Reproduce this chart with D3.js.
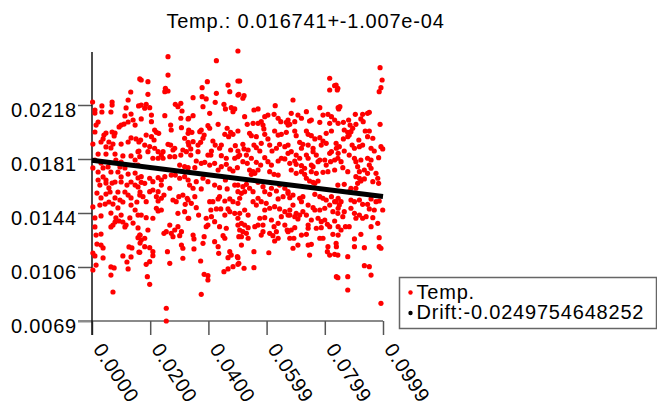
<!DOCTYPE html>
<html>
<head>
<meta charset="utf-8">
<script src="https://cdn.jsdelivr.net/npm/d3@7"></script>
<style>
  html, body { margin: 0; padding: 0; background: #fff; }
  svg { display: block; }
  text { font-family: "Liberation Sans", Arial, Helvetica, sans-serif; font-size: 20px; letter-spacing: 0.8px; fill: #000; }
</style>
</head>
<body>
<svg id="chart" width="657" height="406"></svg>
<script>
// Temperature samples: [time (s), temperature]
const samples = [
  [0.0164,0.02360],[0.0133,0.02270],[0.0002,0.02201],[0.0069,0.02201],[0.0069,0.02180],[0.0034,0.02174],[0.0124,0.02215],[0.0117,0.02160],[0.0160,0.02174],[0.0010,0.02146],[0.0010,0.02125],[0.0034,0.02132],[0.0065,0.02132],[0.0134,0.02118],[0.0113,0.02105],[0.0141,0.02077],[0.0148,0.02042],[0.0100,0.02042],[0.0093,0.02029],[0.0110,0.02049],[0.0124,0.02063],[0.0021,0.02063],[0.0014,0.02042],[0.0010,0.01994],[0.0041,0.01973],[0.0048,0.01987],[0.0069,0.01994],[0.0079,0.01987],[0.0076,0.01967],[0.0038,0.01946],[0.0031,0.01925],[0.0058,0.01925],[0.0072,0.01911],[0.0100,0.01911],[0.0134,0.01953],[0.0151,0.01946],[0.0161,0.01925],[0.0124,0.01925],[0.0003,0.01911],[0.0048,0.01891],[0.0065,0.01884],[0.0021,0.01842],[0.0048,0.01842],[0.0079,0.01842],[0.0106,0.01829],[0.0134,0.01829],[0.0161,0.01863],[0.0010,0.01801],[0.0031,0.01780],[0.0082,0.01801],[0.0100,0.01787],[0.0148,0.01801],[0.0158,0.01766],[0.0003,0.01746],[0.0038,0.01746],[0.0055,0.01753],[0.0096,0.01753],[0.0113,0.01746],[0.0021,0.01718],[0.0038,0.01684],[0.0048,0.01663],[0.0065,0.01718],[0.0089,0.01718],[0.0100,0.01684],[0.0124,0.01704],[0.0148,0.01711],[0.0158,0.01677],[0.0021,0.01663],[0.0027,0.01628],[0.0048,0.01642],[0.0058,0.01608],[0.0069,0.01642],[0.0079,0.01649],[0.0100,0.01649],[0.0120,0.01628],[0.0134,0.01649],[0.0148,0.01628],[0.0158,0.01615],[0.0113,0.01580],[0.0089,0.01580],[0.0017,0.01573],[0.0031,0.01539],[0.0048,0.01566],[0.0062,0.01580],[0.0079,0.01539],[0.0096,0.01525],[0.0124,0.01559],[0.0134,0.01539],[0.0154,0.01511],[0.0165,0.01580],[0.0027,0.01490],[0.0045,0.01497],[0.0058,0.01511],[0.0072,0.01497],[0.0089,0.01470],[0.0106,0.01511],[0.0134,0.01490],[0.0148,0.01456],[0.0003,0.01477],[0.0031,0.01415],[0.0010,0.01401],[0.0065,0.01435],[0.0082,0.01401],[0.0100,0.01421],[0.0106,0.01373],[0.0117,0.01352],[0.0130,0.01401],[0.0158,0.01421],[0.0065,0.01339],[0.0072,0.01352],[0.0079,0.01373],[0.0093,0.01380],[0.0113,0.01339],[0.0141,0.01366],[0.0158,0.01332],[0.0010,0.01339],[0.0014,0.01283],[0.0031,0.01290],[0.0165,0.01283],[0.0031,0.01214],[0.0017,0.01221],[0.0003,0.01159],[0.0010,0.01139],[0.0038,0.01194],[0.0106,0.01139],[0.0127,0.01201],[0.0137,0.01194],[0.0134,0.01132],[0.0165,0.01228],[0.0161,0.01166],[0.0038,0.01125],[0.0014,0.01076],[0.0003,0.01042],[0.0065,0.01063],[0.0076,0.01056],[0.0120,0.01097],[0.0124,0.01049],[0.0065,0.01007],[0.0072,0.00890],
  [0.0261,0.02514],[0.0261,0.02387],[0.0169,0.02353],[0.0192,0.02341],[0.0192,0.02254],[0.0252,0.02296],[0.0261,0.02277],[0.0250,0.02272],[0.0169,0.02180],[0.0186,0.02185],[0.0181,0.02158],[0.0198,0.02162],[0.0169,0.02084],[0.0204,0.02111],[0.0204,0.02065],[0.0250,0.02107],[0.0286,0.02185],[0.0305,0.02192],[0.0295,0.02169],[0.0309,0.02139],[0.0330,0.02084],[0.0305,0.02089],[0.0270,0.02042],[0.0272,0.02008],[0.0307,0.02024],[0.0215,0.02008],[0.0221,0.01992],[0.0229,0.01985],[0.0186,0.01973],[0.0204,0.01962],[0.0213,0.01939],[0.0330,0.01985],[0.0318,0.01951],[0.0330,0.01923],[0.0167,0.01939],[0.0181,0.01904],[0.0261,0.01909],[0.0270,0.01904],[0.0284,0.01882],[0.0198,0.01893],[0.0215,0.01882],[0.0227,0.01858],[0.0244,0.01858],[0.0238,0.01835],[0.0192,0.01858],[0.0209,0.01813],[0.0227,0.01813],[0.0244,0.01813],[0.0158,0.01858],[0.0164,0.01824],[0.0278,0.01870],[0.0312,0.01870],[0.0324,0.01858],[0.0267,0.01824],[0.0284,0.01824],[0.0305,0.01835],[0.0301,0.01766],[0.0318,0.01755],[0.0330,0.01748],[0.0169,0.01686],[0.0169,0.01647],[0.0181,0.01640],[0.0198,0.01675],[0.0209,0.01651],[0.0227,0.01679],[0.0238,0.01663],[0.0250,0.01686],[0.0272,0.01697],[0.0286,0.01697],[0.0301,0.01675],[0.0318,0.01686],[0.0330,0.01663],[0.0267,0.01606],[0.0238,0.01628],[0.0227,0.01582],[0.0209,0.01594],[0.0198,0.01582],[0.0164,0.01559],[0.0175,0.01548],[0.0186,0.01513],[0.0221,0.01548],[0.0227,0.01518],[0.0238,0.01537],[0.0247,0.01559],[0.0278,0.01525],[0.0289,0.01513],[0.0298,0.01548],[0.0312,0.01559],[0.0327,0.01537],[0.0320,0.01495],[0.0221,0.01468],[0.0227,0.01449],[0.0238,0.01456],[0.0169,0.01421],[0.0186,0.01403],[0.0209,0.01399],[0.0295,0.01433],[0.0318,0.01444],[0.0330,0.01399],[0.0267,0.01352],[0.0255,0.01306],[0.0247,0.01295],[0.0272,0.01295],[0.0284,0.01318],[0.0295,0.01341],[0.0307,0.01306],[0.0301,0.01279],[0.0278,0.01272],[0.0192,0.01318],[0.0164,0.01283],[0.0169,0.01249],[0.0181,0.01261],[0.0158,0.01265],[0.0181,0.01203],[0.0198,0.01196],[0.0209,0.01168],[0.0209,0.01141],[0.0164,0.01164],[0.0307,0.01214],[0.0312,0.01192],[0.0312,0.01123],[0.0259,0.01168],[0.0267,0.01088],[0.0198,0.01099],[0.0186,0.01081],[0.0190,0.00996],[0.0198,0.00943],[0.0255,0.00778],[0.0255,0.00690],
  [0.0427,0.02486],[0.0501,0.02553],[0.0501,0.02346],[0.0396,0.02341],[0.0378,0.02300],[0.0467,0.02318],[0.0473,0.02272],[0.0501,0.02249],[0.0347,0.02231],[0.0378,0.02238],[0.0392,0.02222],[0.0427,0.02261],[0.0423,0.02199],[0.0381,0.02169],[0.0453,0.02185],[0.0458,0.02153],[0.0478,0.02162],[0.0484,0.02134],[0.0490,0.02153],[0.0404,0.02123],[0.0347,0.02107],[0.0332,0.02089],[0.0433,0.02047],[0.0398,0.02038],[0.0404,0.02020],[0.0375,0.02008],[0.0370,0.01996],[0.0385,0.01973],[0.0381,0.01951],[0.0332,0.02008],[0.0343,0.01992],[0.0464,0.02020],[0.0476,0.01992],[0.0456,0.01978],[0.0469,0.01962],[0.0484,0.01978],[0.0501,0.02001],[0.0415,0.01932],[0.0423,0.01904],[0.0373,0.01923],[0.0364,0.01904],[0.0347,0.01927],[0.0332,0.01904],[0.0444,0.01904],[0.0438,0.01882],[0.0492,0.01900],[0.0476,0.01870],[0.0410,0.01863],[0.0408,0.01835],[0.0398,0.01835],[0.0339,0.01877],[0.0364,0.01858],[0.0339,0.01835],[0.0444,0.01831],[0.0461,0.01813],[0.0490,0.01813],[0.0501,0.01824],[0.0358,0.01794],[0.0375,0.01778],[0.0387,0.01785],[0.0353,0.01748],[0.0404,0.01766],[0.0421,0.01778],[0.0433,0.01732],[0.0444,0.01755],[0.0461,0.01771],[0.0473,0.01739],[0.0484,0.01725],[0.0499,0.01748],[0.0381,0.01675],[0.0358,0.01651],[0.0335,0.01628],[0.0347,0.01606],[0.0375,0.01601],[0.0353,0.01548],[0.0330,0.01525],[0.0341,0.01502],[0.0358,0.01472],[0.0398,0.01651],[0.0421,0.01628],[0.0438,0.01610],[0.0458,0.01663],[0.0464,0.01601],[0.0490,0.01628],[0.0501,0.01582],[0.0404,0.01513],[0.0415,0.01513],[0.0433,0.01532],[0.0438,0.01548],[0.0456,0.01518],[0.0473,0.01532],[0.0484,0.01513],[0.0501,0.01502],[0.0408,0.01456],[0.0427,0.01463],[0.0442,0.01463],[0.0467,0.01463],[0.0366,0.01421],[0.0332,0.01399],[0.0392,0.01399],[0.0410,0.01410],[0.0421,0.01375],[0.0438,0.01341],[0.0398,0.01352],[0.0392,0.01341],[0.0456,0.01421],[0.0473,0.01444],[0.0490,0.01433],[0.0501,0.01399],[0.0461,0.01330],[0.0501,0.01352],[0.0385,0.01272],[0.0381,0.01226],[0.0347,0.01283],[0.0350,0.01256],[0.0350,0.01187],[0.0421,0.01237],[0.0433,0.01203],[0.0435,0.01157],[0.0450,0.01279],[0.0456,0.01261],[0.0473,0.01168],[0.0478,0.01145],[0.0467,0.01127],[0.0499,0.01134],[0.0504,0.01272],[0.0373,0.01104],[0.0385,0.01012],[0.0398,0.01003],[0.0398,0.00973],[0.0375,0.00874],[0.0453,0.01030],[0.0467,0.01049],[0.0484,0.01065],[0.0501,0.01081],
  [0.0507,0.02346],[0.0504,0.02254],[0.0522,0.02245],[0.0518,0.02227],[0.0629,0.02176],[0.0556,0.02146],[0.0570,0.02153],[0.0593,0.02100],[0.0604,0.02111],[0.0625,0.02116],[0.0639,0.02089],[0.0648,0.02065],[0.0667,0.02061],[0.0673,0.02077],[0.0524,0.02100],[0.0533,0.02047],[0.0553,0.02054],[0.0570,0.02054],[0.0581,0.02065],[0.0587,0.02042],[0.0541,0.01985],[0.0547,0.01969],[0.0564,0.01962],[0.0593,0.01978],[0.0590,0.02015],[0.0604,0.01946],[0.0627,0.02001],[0.0639,0.01973],[0.0650,0.01978],[0.0667,0.01992],[0.0673,0.02042],[0.0518,0.01909],[0.0522,0.01877],[0.0536,0.01870],[0.0556,0.01904],[0.0564,0.01886],[0.0581,0.01916],[0.0576,0.01863],[0.0610,0.01904],[0.0618,0.01863],[0.0633,0.01882],[0.0644,0.01909],[0.0662,0.01893],[0.0673,0.01847],[0.0501,0.01863],[0.0507,0.01835],[0.0530,0.01835],[0.0547,0.01813],[0.0593,0.01817],[0.0604,0.01789],[0.0616,0.01766],[0.0639,0.01794],[0.0650,0.01813],[0.0662,0.01808],[0.0518,0.01789],[0.0533,0.01778],[0.0564,0.01785],[0.0579,0.01766],[0.0541,0.01732],[0.0553,0.01720],[0.0559,0.01709],[0.0570,0.01732],[0.0547,0.01702],[0.0610,0.01720],[0.0625,0.01702],[0.0639,0.01697],[0.0501,0.01628],[0.0518,0.01617],[0.0530,0.01633],[0.0541,0.01606],[0.0553,0.01582],[0.0513,0.01571],[0.0524,0.01582],[0.0507,0.01537],[0.0570,0.01647],[0.0587,0.01617],[0.0593,0.01582],[0.0610,0.01564],[0.0616,0.01606],[0.0633,0.01587],[0.0644,0.01628],[0.0662,0.01606],[0.0673,0.01571],[0.0656,0.01548],[0.0639,0.01532],[0.0570,0.01537],[0.0581,0.01513],[0.0598,0.01502],[0.0610,0.01468],[0.0593,0.01456],[0.0564,0.01490],[0.0553,0.01513],[0.0627,0.01479],[0.0644,0.01463],[0.0662,0.01444],[0.0673,0.01421],[0.0650,0.01410],[0.0524,0.01456],[0.0507,0.01433],[0.0536,0.01421],[0.0576,0.01399],[0.0593,0.01403],[0.0570,0.01352],[0.0559,0.01341],[0.0587,0.01352],[0.0616,0.01387],[0.0625,0.01341],[0.0639,0.01364],[0.0662,0.01352],[0.0670,0.01318],[0.0513,0.01364],[0.0524,0.01352],[0.0507,0.01318],[0.0518,0.01306],[0.0536,0.01334],[0.0530,0.01295],[0.0513,0.01272],[0.0587,0.01306],[0.0581,0.01283],[0.0610,0.01295],[0.0621,0.01279],[0.0633,0.01306],[0.0627,0.01242],[0.0639,0.01261],[0.0673,0.01306],[0.0536,0.01261],[0.0513,0.01214],[0.0556,0.01168],[0.0607,0.01161],[0.0501,0.01127],[0.0504,0.01088],[0.0522,0.01054],[0.0556,0.01058],
  [0.0816,0.02365],[0.0833,0.02314],[0.0816,0.02284],[0.0842,0.02284],[0.0690,0.02215],[0.0684,0.02123],[0.0707,0.02111],[0.0719,0.02089],[0.0696,0.02065],[0.0679,0.02047],[0.0736,0.02134],[0.0782,0.02162],[0.0793,0.02111],[0.0810,0.02116],[0.0822,0.02100],[0.0845,0.02162],[0.0747,0.02070],[0.0753,0.02077],[0.0782,0.02061],[0.0816,0.02054],[0.0833,0.02077],[0.0845,0.02054],[0.0696,0.02001],[0.0701,0.01969],[0.0736,0.02001],[0.0742,0.01978],[0.0753,0.01969],[0.0765,0.01946],[0.0782,0.01955],[0.0793,0.01932],[0.0804,0.01985],[0.0822,0.02001],[0.0673,0.01904],[0.0713,0.01923],[0.0724,0.01909],[0.0719,0.01882],[0.0684,0.01858],[0.0742,0.01904],[0.0759,0.01882],[0.0787,0.01904],[0.0804,0.01916],[0.0816,0.01847],[0.0822,0.01858],[0.0839,0.01882],[0.0845,0.01847],[0.0701,0.01835],[0.0713,0.01813],[0.0736,0.01835],[0.0742,0.01813],[0.0759,0.01858],[0.0770,0.01835],[0.0782,0.01801],[0.0679,0.01778],[0.0696,0.01794],[0.0701,0.01771],[0.0719,0.01762],[0.0730,0.01744],[0.0753,0.01766],[0.0759,0.01755],[0.0776,0.01789],[0.0799,0.01801],[0.0804,0.01766],[0.0819,0.01789],[0.0833,0.01801],[0.0684,0.01732],[0.0701,0.01709],[0.0719,0.01720],[0.0730,0.01702],[0.0753,0.01720],[0.0770,0.01709],[0.0793,0.01716],[0.0810,0.01720],[0.0833,0.01732],[0.0736,0.01675],[0.0747,0.01656],[0.0759,0.01647],[0.0765,0.01640],[0.0776,0.01656],[0.0673,0.01582],[0.0679,0.01541],[0.0690,0.01559],[0.0713,0.01537],[0.0724,0.01548],[0.0719,0.01513],[0.0765,0.01564],[0.0782,0.01548],[0.0793,0.01537],[0.0804,0.01525],[0.0822,0.01548],[0.0833,0.01513],[0.0845,0.01537],[0.0690,0.01490],[0.0679,0.01456],[0.0701,0.01433],[0.0724,0.01444],[0.0742,0.01490],[0.0759,0.01472],[0.0765,0.01456],[0.0782,0.01456],[0.0799,0.01468],[0.0816,0.01490],[0.0827,0.01444],[0.0845,0.01468],[0.0679,0.01421],[0.0696,0.01410],[0.0713,0.01421],[0.0707,0.01394],[0.0736,0.01421],[0.0753,0.01387],[0.0742,0.01352],[0.0776,0.01399],[0.0787,0.01375],[0.0799,0.01387],[0.0808,0.01357],[0.0816,0.01341],[0.0833,0.01380],[0.0684,0.01318],[0.0696,0.01334],[0.0719,0.01283],[0.0736,0.01288],[0.0742,0.01330],[0.0770,0.01330],[0.0787,0.01334],[0.0782,0.01261],[0.0793,0.01261],[0.0827,0.01288],[0.0845,0.01283],[0.0845,0.01341],[0.0679,0.01261],[0.0693,0.01261],[0.0707,0.01214],[0.0742,0.01214],[0.0753,0.01219],[0.0810,0.01203],[0.0808,0.01168],[0.0816,0.01145],[0.0833,0.01150],[0.0839,0.01203],[0.0690,0.01192],[0.0747,0.01145],[0.0839,0.00996],
  [0.0989,0.02438],[0.0996,0.02353],[0.0992,0.02300],[0.0986,0.02272],[0.0838,0.02318],[0.0844,0.02296],[0.0851,0.02169],[0.0847,0.02153],[0.0904,0.02116],[0.0929,0.02116],[0.0946,0.02123],[0.0952,0.02130],[0.0863,0.02061],[0.0881,0.02077],[0.0886,0.02042],[0.0906,0.02047],[0.0923,0.02084],[0.0931,0.02065],[0.0989,0.02047],[0.0866,0.02008],[0.0878,0.01992],[0.0889,0.01996],[0.0883,0.01973],[0.0878,0.01962],[0.0895,0.02020],[0.0938,0.02001],[0.0952,0.02001],[0.0946,0.01962],[0.0964,0.01951],[0.0863,0.01946],[0.0916,0.01939],[0.0838,0.01916],[0.0849,0.01893],[0.0866,0.01863],[0.0893,0.01904],[0.0901,0.01882],[0.0918,0.01893],[0.0929,0.01904],[0.0958,0.01882],[0.0969,0.01863],[0.0992,0.01893],[0.0998,0.01877],[0.0984,0.01817],[0.0883,0.01835],[0.0901,0.01813],[0.0923,0.01801],[0.0906,0.01789],[0.0946,0.01813],[0.0958,0.01801],[0.0855,0.01789],[0.0844,0.01813],[0.0861,0.01748],[0.0878,0.01720],[0.0912,0.01755],[0.0918,0.01720],[0.0935,0.01732],[0.0946,0.01709],[0.0958,0.01744],[0.0952,0.01766],[0.0975,0.01709],[0.0981,0.01675],[0.0906,0.01686],[0.0918,0.01675],[0.0923,0.01656],[0.0912,0.01640],[0.0935,0.01670],[0.0964,0.01651],[0.0984,0.01640],[0.0844,0.01628],[0.0866,0.01633],[0.0889,0.01606],[0.0906,0.01606],[0.0883,0.01582],[0.0838,0.01513],[0.0855,0.01513],[0.0849,0.01490],[0.0866,0.01444],[0.0889,0.01525],[0.0901,0.01513],[0.0889,0.01468],[0.0918,0.01525],[0.0929,0.01495],[0.0946,0.01495],[0.0952,0.01463],[0.0958,0.01532],[0.0975,0.01513],[0.0986,0.01518],[0.0998,0.01456],[0.0969,0.01456],[0.0901,0.01433],[0.0906,0.01399],[0.0918,0.01421],[0.0929,0.01399],[0.0941,0.01410],[0.0964,0.01403],[0.0981,0.01364],[0.0958,0.01341],[0.0844,0.01433],[0.0861,0.01410],[0.0870,0.01341],[0.0855,0.01318],[0.0883,0.01341],[0.0838,0.01226],[0.0844,0.01145],[0.0901,0.01203],[0.0901,0.01256],[0.0923,0.01288],[0.0935,0.01196],[0.0986,0.01265],[0.0986,0.01203],[0.0992,0.01192],[0.0878,0.01134],[0.0935,0.01072],[0.0952,0.01065],[0.0958,0.01007],[0.0878,0.00996],[0.0844,0.00989],[0.0878,0.00904],[0.0992,0.00812]
];

// Summary numbers shown in the title and legend
const seriesName = "Temp.";
const meanTemp = "0.016741";
const meanErr = "1.007e-04";
const driftSlope = -0.0249754648252;
const driftAtStart = 0.017989;   // fitted value at t = 0
const timeRange = [0, 0.0999];

// Axis ticks
const xTickValues = [0, 0.01998, 0.03996, 0.05994, 0.07992, 0.0999];
const xTickLabels = ["0.0000", "0.0200", "0.0400", "0.0599", "0.0799", "0.0999"];
const yTickValues = [0.0069, 0.010626, 0.014352, 0.018078, 0.021804];
const yTickLabels = ["0.0069", "0.0106", "0.0144", "0.0181", "0.0218"];

const width = 657, height = 406;
const margin = { top: 51, right: 274, bottom: 85, left: 92 };
const svg = d3.select("#chart");

const x = d3.scaleLinear().domain(timeRange).range([margin.left, width - margin.right]);
const y = d3.scaleLinear().domain(d3.extent(samples, d => d[1])).range([height - margin.bottom, margin.top]);

const tick = 14;

// Title
svg.append("text")
  .attr("x", 305.5).attr("y", 27.5)
  .attr("text-anchor", "middle")
  .text(`${seriesName}: ${meanTemp}+-${meanErr}`);

// Horizontal base line (grey) at the bottom of the value range
svg.append("line")
  .attr("x1", x.range()[0] - tick).attr("x2", x.range()[1])
  .attr("y1", y.range()[0]).attr("y2", y.range()[0])
  .attr("stroke", "#8a8a8a").attr("stroke-width", 2);

// Y axis
const yAxis = svg.append("g")
  .attr("transform", `translate(${margin.left},0)`)
  .call(d3.axisLeft(y).tickValues(yTickValues).tickFormat((d, i) => yTickLabels[i]).tickSize(tick).tickPadding(1));
yAxis.select(".domain").remove();
yAxis.selectAll(".tick line").attr("stroke", "#555").attr("stroke-width", 1.5);
yAxis.selectAll(".tick:first-of-type line").attr("stroke", "#8a8a8a").attr("stroke-width", 2);
yAxis.selectAll(".tick text")
  .attr("dy", "0.56em")
  .style("font-family", null).style("font-size", null)
  .attr("font-family", null).attr("font-size", null);
yAxis.attr("font-family", null).attr("font-size", null);

// X axis
const xAxis = svg.append("g")
  .attr("transform", `translate(0,${y.range()[0]})`)
  .call(d3.axisBottom(x).tickValues(xTickValues).tickFormat((d, i) => xTickLabels[i]).tickSize(tick));
xAxis.select(".domain").remove();
xAxis.attr("font-family", null).attr("font-size", null);
xAxis.selectAll(".tick line").attr("stroke", "#555").attr("stroke-width", 1.5);
xAxis.selectAll(".tick text")
  .attr("x", 0).attr("y", 0).attr("dy", 0)
  .attr("text-anchor", "start")
  .attr("transform", "translate(0,28) rotate(57)");

// Vertical axis line
svg.append("line")
  .attr("x1", margin.left).attr("x2", margin.left)
  .attr("y1", y.range()[1] + 1).attr("y2", y.range()[0] + tick)
  .attr("stroke", "#111").attr("stroke-width", 1.5);

// Samples
svg.append("g")
  .selectAll("circle")
  .data(samples)
  .join("circle")
  .attr("cx", d => x(d[0]))
  .attr("cy", d => y(d[1]))
  .attr("r", 2.6)
  .attr("fill", "#ff0000");

// Linear drift fit
const driftLine = d3.line().x(d => x(d)).y(d => y(driftAtStart + driftSlope * d));
svg.append("path")
  .attr("d", driftLine(timeRange))
  .attr("stroke", "#000").attr("stroke-width", 5).attr("fill", "none");

// Legend
const legend = svg.append("g").attr("transform", "translate(399.5,277.5)");
legend.append("rect")
  .attr("width", 257).attr("height", 51)
  .attr("fill", "#fff").attr("stroke", "#666").attr("stroke-width", 1.5);
const legendItems = [
  { label: seriesName, color: "#ff0000" },
  { label: `Drift:${driftSlope}`, color: "#000" }
];
const rows = legend.selectAll("g.item").data(legendItems).join("g")
  .attr("class", "item")
  .attr("transform", (d, i) => `translate(0,${21 + i * 20.5})`);
rows.append("circle").attr("cx", 11).attr("cy", -6).attr("r", 2.2).attr("fill", d => d.color);
rows.append("text").attr("x", 17).attr("y", 0).text(d => d.label);
</script>
</body>
</html>
